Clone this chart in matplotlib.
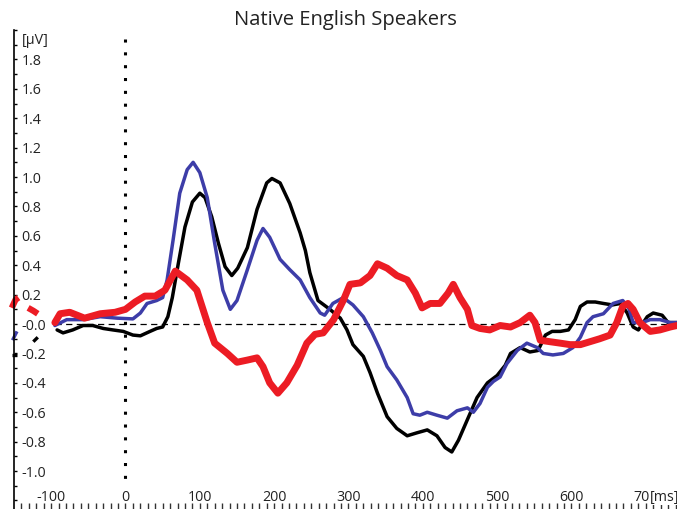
import matplotlib
matplotlib.use("Agg")
import matplotlib.pyplot as plt
from matplotlib.ticker import MultipleLocator, FixedLocator

plt.rcParams['font.family'] = ['Open Sans', 'DejaVu Sans']

# ERP grand averages, time in ms, amplitude in µV
t_red = [-95, -88, -75, -55, -34, -14, 0, 13, 26, 40, 53, 67, 83, 96, 110, 120, 137, 150,
         164, 177, 185, 194, 205, 217, 231, 244, 255, 266, 280, 293, 302, 316, 329, 339,
         352, 365, 379, 390, 399, 410, 423, 434, 441, 450, 460, 466, 477, 490, 504, 518,
         531, 544, 551, 558, 571, 585, 598, 612, 625, 638, 652, 661, 669, 676, 683, 692,
         706, 719, 733, 742]
v_red = [0.01, 0.07, 0.08, 0.04, 0.07, 0.08, 0.10, 0.15, 0.19, 0.19, 0.23, 0.36, 0.30, 0.23,
         0.01, -0.13, -0.20, -0.26, -0.245, -0.23, -0.29, -0.40, -0.47, -0.40, -0.28, -0.13,
         -0.07, -0.06, 0.03, 0.16, 0.27, 0.28, 0.33, 0.41, 0.38, 0.33, 0.30, 0.21, 0.11,
         0.14, 0.14, 0.21, 0.27, 0.18, 0.10, -0.01, -0.03, -0.04, -0.01, -0.02, 0.01, 0.06,
         0.01, -0.11, -0.12, -0.13, -0.14, -0.14, -0.12, -0.10, -0.075, 0.01, 0.12, 0.14,
         0.10, 0.01, -0.05, -0.04, -0.02, -0.01]

t_black = [-92, -84, -71, -57, -44, -30, -17, -3, 10, 20, 33, 42, 50, 57, 63, 71, 80, 90,
           100, 107, 116, 125, 134, 143, 151, 164, 177, 190, 197, 208, 221, 235, 242, 248,
           259, 275, 289, 298, 306, 320, 329, 339, 352, 365, 379, 392, 406, 419, 430, 439,
           448, 460, 473, 487, 500, 511, 518, 531, 544, 555, 565, 574, 585, 596, 605, 612,
           621, 632, 643, 655, 666, 675, 683, 690, 702, 710, 722, 730, 742]
v_black = [-0.04, -0.06, -0.04, -0.01, -0.01, -0.03, -0.04, -0.05, -0.075, -0.08, -0.05,
           -0.03, -0.02, 0.05, 0.18, 0.41, 0.66, 0.83, 0.89, 0.86, 0.73, 0.55, 0.39, 0.33,
           0.38, 0.52, 0.78, 0.96, 0.99, 0.96, 0.82, 0.62, 0.50, 0.35, 0.16, 0.10, 0.04,
           -0.04, -0.14, -0.22, -0.33, -0.47, -0.63, -0.71, -0.76, -0.74, -0.72, -0.76,
           -0.84, -0.87, -0.79, -0.65, -0.50, -0.40, -0.35, -0.28, -0.20, -0.16, -0.19,
           -0.18, -0.075, -0.05, -0.05, -0.04, 0.03, 0.12, 0.15, 0.15, 0.14, 0.13, 0.14,
           0.075, -0.02, -0.04, 0.05, 0.075, 0.06, 0.01, 0.01]

t_blue = [-95, -79, -57, -34, -11, 10, 20, 29, 42, 50, 56, 64, 73, 83, 91, 100, 110, 120,
          131, 141, 150, 164, 177, 185, 194, 208, 221, 235, 248, 262, 268, 279, 293, 306,
          320, 332, 343, 352, 365, 379, 387, 396, 406, 419, 433, 446, 460, 468, 477, 487,
          495, 504, 513, 527, 540, 554, 562, 575, 589, 602, 612, 621, 629, 643, 656, 669,
          677, 683, 695, 706, 719, 733, 742]
v_blue = [-0.01, 0.03, 0.03, 0.05, 0.04, 0.035, 0.075, 0.14, 0.16, 0.18, 0.30, 0.57, 0.89,
          1.05, 1.10, 1.03, 0.86, 0.55, 0.23, 0.10, 0.16, 0.37, 0.57, 0.65, 0.59, 0.44,
          0.37, 0.30, 0.18, 0.075, 0.06, 0.14, 0.18, 0.13, 0.05, -0.06, -0.18, -0.29,
          -0.38, -0.50, -0.61, -0.62, -0.60, -0.62, -0.64, -0.59, -0.57, -0.60, -0.54,
          -0.43, -0.39, -0.36, -0.27, -0.18, -0.13, -0.16, -0.20, -0.21, -0.20, -0.16,
          -0.09, 0.01, 0.05, 0.07, 0.14, 0.16, 0.11, 0.01, 0.01, 0.03, 0.03, 0.01, 0.01]

# stubs of the traces left of the amplitude axis
red_stubs = [([-153, -148, -144], [0.11, 0.165, 0.18]), ([-131, -124, -118], [0.11, 0.09, 0.07])]
blue_stubs = [([-152, -146], [-0.11, -0.05])]
black_stubs = [([-153, -146], [-0.21, -0.21]), ([-124, -118], [-0.12, -0.09])]

x_ticks = [-100, 0, 100, 200, 300, 400, 500, 600, 700]
x_labels = ['-100', '0', '100', '200', '300', '400', '500', '600', '700']
y_ticks = [2.0, 1.8, 1.6, 1.4, 1.2, 1.0, 0.8, 0.6, 0.4, 0.2, 0.0, -0.2, -0.4, -0.6, -0.8, -1.0]
y_labels = ['', '1.8', '1.6', '1.4', '1.2', '1.0', '0.8', '0.6', '0.4', '0.2', '-0.0',
            '-0.2', '-0.4', '-0.6', '-0.8', '-1.0']

RED = '#ec1c24'
BLUE = '#3d3da8'
TXT = '#222222'
FS = 10.3

W, H = 677, 509
fig = plt.figure(figsize=(W / 100, H / 100), dpi=100)
ax = fig.add_axes([14 / W, 0, 1 - 14 / W, (H - 30) / H])
ax.set_xlim(-150, 742)
ax.set_ylim(-1.258, 2.0)

for s in ('top', 'right', 'bottom'):
    ax.spines[s].set_visible(False)
ax.spines['left'].set_linewidth(1.2)
ax.spines['left'].set_color('black')

# baseline and stimulus onset
ax.plot([-95, 742], [0, 0], color='black', lw=0.9, ls=(0, (5, 3.5)), zorder=1)
ax.plot([0, 0], [1.94, -1.07], color='black', lw=2.2, ls=(0, (1, 3.2)),
        dash_capstyle='butt', zorder=1)

kw = dict(solid_joinstyle='round', solid_capstyle='round')
ax.plot(t_black, v_black, color='black', lw=2.5, zorder=3, **kw)
ax.plot(t_blue, v_blue, color=BLUE, lw=2.5, zorder=4, **kw)
ax.plot(t_red, v_red, color=RED, lw=5.0, zorder=5, **kw)

for tx, vy in red_stubs:
    ax.plot(tx, vy, color=RED, lw=4.5, clip_on=False, solid_capstyle='butt')
for tx, vy in blue_stubs:
    ax.plot(tx, vy, color=BLUE, lw=2.4, clip_on=False, solid_capstyle='butt')
for tx, vy in black_stubs:
    ax.plot(tx, vy, color='black', lw=2.4, clip_on=False, solid_capstyle='butt')

# amplitude axis
ax.set_yticks(y_ticks, labels=y_labels)
ax.yaxis.set_minor_locator(MultipleLocator(0.1))
ax.tick_params(axis='y', which='both', direction='in', length=2.5, width=1,
               color='black', pad=-5.5, labelsize=FS, labelcolor=TXT)
for lbl in ax.get_yticklabels():
    lbl.set_ha('left')
ax.text(8 / (W - 14), 1.93, '[µV]', transform=ax.get_yaxis_transform(), fontsize=FS,
        color=TXT, ha='left', va='center')

# time axis: labels sit just above the tick marks at the figure edge
ax.set_xticks(x_ticks, labels=x_labels)
ax.xaxis.set_minor_locator(FixedLocator([t for t in range(-140, 750, 10) if t % 100]))
ax.tick_params(axis='x', which='both', direction='in', length=4.5, width=1,
               color='#333333', pad=-8.5, labelsize=FS, labelcolor=TXT)
for lbl in ax.get_xticklabels():
    lbl.set_va('center')
ax.text(705, 12 / (H - 30), '[ms]', transform=ax.get_xaxis_transform(), fontsize=FS,
        color=TXT, ha='left', va='center',
        bbox=dict(facecolor='white', edgecolor='none', pad=0.5))

fig.text(345 / W, 1 - 20 / H, 'Native English Speakers', ha='center', va='center',
         fontsize=14.5, color=TXT)

fig.savefig('out.png', dpi=100)
